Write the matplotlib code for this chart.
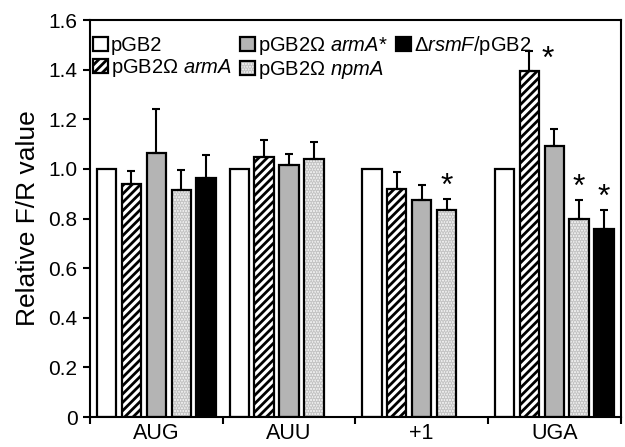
import matplotlib
matplotlib.use("Agg")
import matplotlib.pyplot as plt
import numpy as np
from matplotlib.patches import Patch

plt.rcParams['font.family'] = ['Liberation Sans', 'DejaVu Sans']
plt.rcParams['mathtext.fontset'] = 'custom'
plt.rcParams['mathtext.it'] = 'Liberation Sans:italic'
plt.rcParams['mathtext.rm'] = 'Liberation Sans'
plt.rcParams['hatch.linewidth'] = 2.0

# data
codons = ['AUG', 'AUU', '+1', 'UGA']
series = ['pGB2', r'pGB2$\Omega$ $\it{armA}$', r'pGB2$\Omega$ $\it{armA}$*',
          r'pGB2$\Omega$ $\it{npmA}$', r'$\Delta$$\it{rsmF}$/pGB2']
pGB2 = [1.0, 1.0, 1.0, 1.0]
armA = [0.94, 1.05, 0.92, 1.395]
armA_star = [1.065, 1.017, 0.873, 1.092]
npmA = [0.915, 1.04, 0.835, 0.797]
rsmF = [0.965, np.nan, np.nan, 0.76]
err_pGB2 = [0, 0, 0, 0]
err_armA = [0.05, 0.068, 0.068, 0.08]
err_armA_star = [0.177, 0.043, 0.064, 0.068]
err_npmA = [0.08, 0.067, 0.043, 0.077]
err_rsmF = [0.09, 0, 0, 0.074]
# (series index, codon index) with significance star
stars = [(3, 2), (1, 3), (3, 3), (4, 3)]

values = [pGB2, armA, armA_star, npmA, rsmF]
errors = [err_pGB2, err_armA, err_armA_star, err_npmA, err_rsmF]
faces = ['white', 'white', '#b4b4b4', '#f2f2f2', 'black']
hatches = [None, '////', None, '......', None]
hatch_cols = ['black', 'black', 'black', '#c4c4c4', 'black']

fig = plt.figure(figsize=(6.25, 4.47), dpi=100)
ax = fig.add_axes([0.144, 0.067, 0.849, 0.888])

x = np.arange(len(codons))
step = 0.1875
width = 0.146
handles = []
for j in range(5):
    pos = x + (j - 2) * step
    vals = np.array(values[j])
    ax.bar(pos, vals, width, color=faces[j], hatch=hatches[j],
           edgecolor=hatch_cols[j], linewidth=0)
    ax.bar(pos, vals, width, fill=False, edgecolor='black', linewidth=1.6)
    if j > 0:
        ax.errorbar(pos, vals, yerr=[np.zeros(4), errors[j]], fmt='none',
                    ecolor='black', elinewidth=1.5, capsize=3, capthick=1.5)
    h1 = Patch(facecolor=faces[j], hatch=hatches[j], edgecolor=hatch_cols[j], linewidth=0)
    h2 = Patch(fill=False, edgecolor='black', linewidth=1.6)
    handles.append((h1, h2))

for j, i in stars:
    top = values[j][i] + errors[j][i]
    xs = x[i] + (j - 2) * step
    if j == 1:
        ax.annotate('*', (xs, top), xytext=(13, -6), textcoords='offset points',
                    ha='center', va='center', fontsize=23)
    else:
        ax.annotate('*', (xs, top), xytext=(0, 9), textcoords='offset points',
                    ha='center', va='center', fontsize=23)

ax.set_xlim(-0.5, 3.5)
ax.set_ylim(0, 1.6)
yt = np.arange(0, 1.61, 0.2)
ax.set_yticks(yt)
ax.set_yticklabels(['0'] + ['%.1f' % v for v in yt[1:]], fontsize=15)
ax.set_xticks(x)
ax.set_xticklabels(codons, fontsize=15.5)
ax.set_xticks(np.arange(-0.5, 3.6, 1), minor=True)
ax.tick_params(axis='x', which='major', length=0, pad=4)
ax.tick_params(axis='x', which='minor', length=5, width=1.5, direction='out')
ax.tick_params(axis='y', length=5, width=1.5, direction='out', pad=4)
for s in ax.spines.values():
    s.set_linewidth(1.5)
ax.set_ylabel('Relative F/R value', fontsize=19, labelpad=6)

leg = ax.legend(handles, series, ncol=3, loc='upper left', fontsize=14.5,
                frameon=False, handlelength=0.72, handleheight=0.75,
                handletextpad=0.15, columnspacing=0.42, labelspacing=0.1,
                borderaxespad=0.0, borderpad=0.0, bbox_to_anchor=(0.006, 0.965))

fig.savefig('out.png', dpi=100)
